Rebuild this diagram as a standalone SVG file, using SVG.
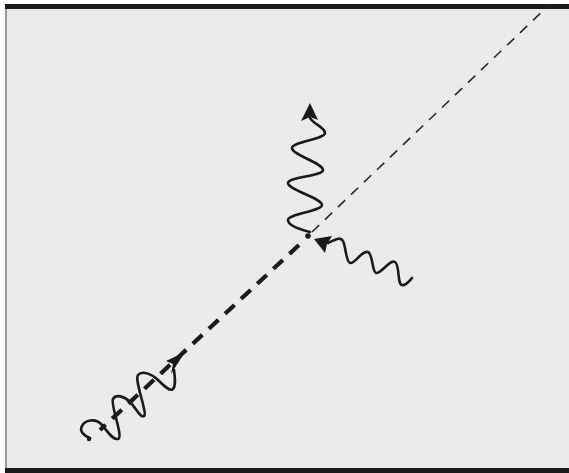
<svg xmlns="http://www.w3.org/2000/svg" width="569" height="473" viewBox="0 0 569 473">
<style>
.wave{fill:none;stroke:#1a1a1a;stroke-width:2.6;stroke-linecap:round;stroke-linejoin:round}
.head{fill:#1a1a1a;stroke:none}
.thick{stroke:#1a1a1a;stroke-width:4.2;stroke-dasharray:13 9;fill:none}
.thin{stroke:#2a2a2a;stroke-width:1.6;stroke-dasharray:10 8;fill:none}
</style>
<rect x="0" y="0" width="569" height="473" fill="#ffffff"/>
<g id="frame">
<rect x="5" y="4" width="564" height="469" fill="#ebebeb"/>
<line x1="6" y1="4" x2="6" y2="469" stroke="#9a9a9a" stroke-width="2"/>
<rect x="5" y="4" width="564" height="5" fill="#1a1a1a"/>
<rect x="5" y="468" width="564" height="5" fill="#1a1a1a"/>
</g>
<g id="connectors">
<line class="thin" x1="312" y1="232" x2="548" y2="6"/>
<line class="thick" x1="299" y1="245" x2="100" y2="430"/>
<circle cx="308" cy="236" r="2.8" fill="#1a1a1a"/>
</g>
<g id="incoming-wave">
<path class="wave" d="M90,438 C84,436 79,431 82,426 C85,420 95,418 101,424 C107,430 112,440 118,439 C124,438 110,404 113,399 C116,394 124,396 130,402 C136,408 140,418 144,416 C148,414 134,380 138,375 C142,370 152,374 158,380 C164,386 170,392 173,389 C176,386 175,378 174,370"/>
<circle cx="89" cy="439" r="2.2" fill="#1a1a1a"/>
<polygon class="head" points="185,352 166,361 173,364 171,374"/>
</g>
<g id="scattered-wave">
<path class="wave" d="M310,232 C302,230 288,226 288,220 C288,214 322,211 322,205 C322,198 288,190 288,183 C288,177 323,176 323,170 C323,163 292,155 292,148 C292,142 325,139 325,133 C325,127 313,124 310,118"/>
<polygon class="head" points="310,103 301,121 310,117 318,120"/>
</g>
<g id="side-wave">
<path class="wave" d="M328,243 C335,240 340,236 343,241 C346,247 346,262 350,263 C355,264 362,250 368,252 C373,254 372,272 376,273 C381,274 390,259 395,262 C400,265 397,284 402,285 C406,286 410,280 412,278"/>
<polygon class="head" points="314,239 332,236 327,244 325,253"/>
</g>
</svg>
